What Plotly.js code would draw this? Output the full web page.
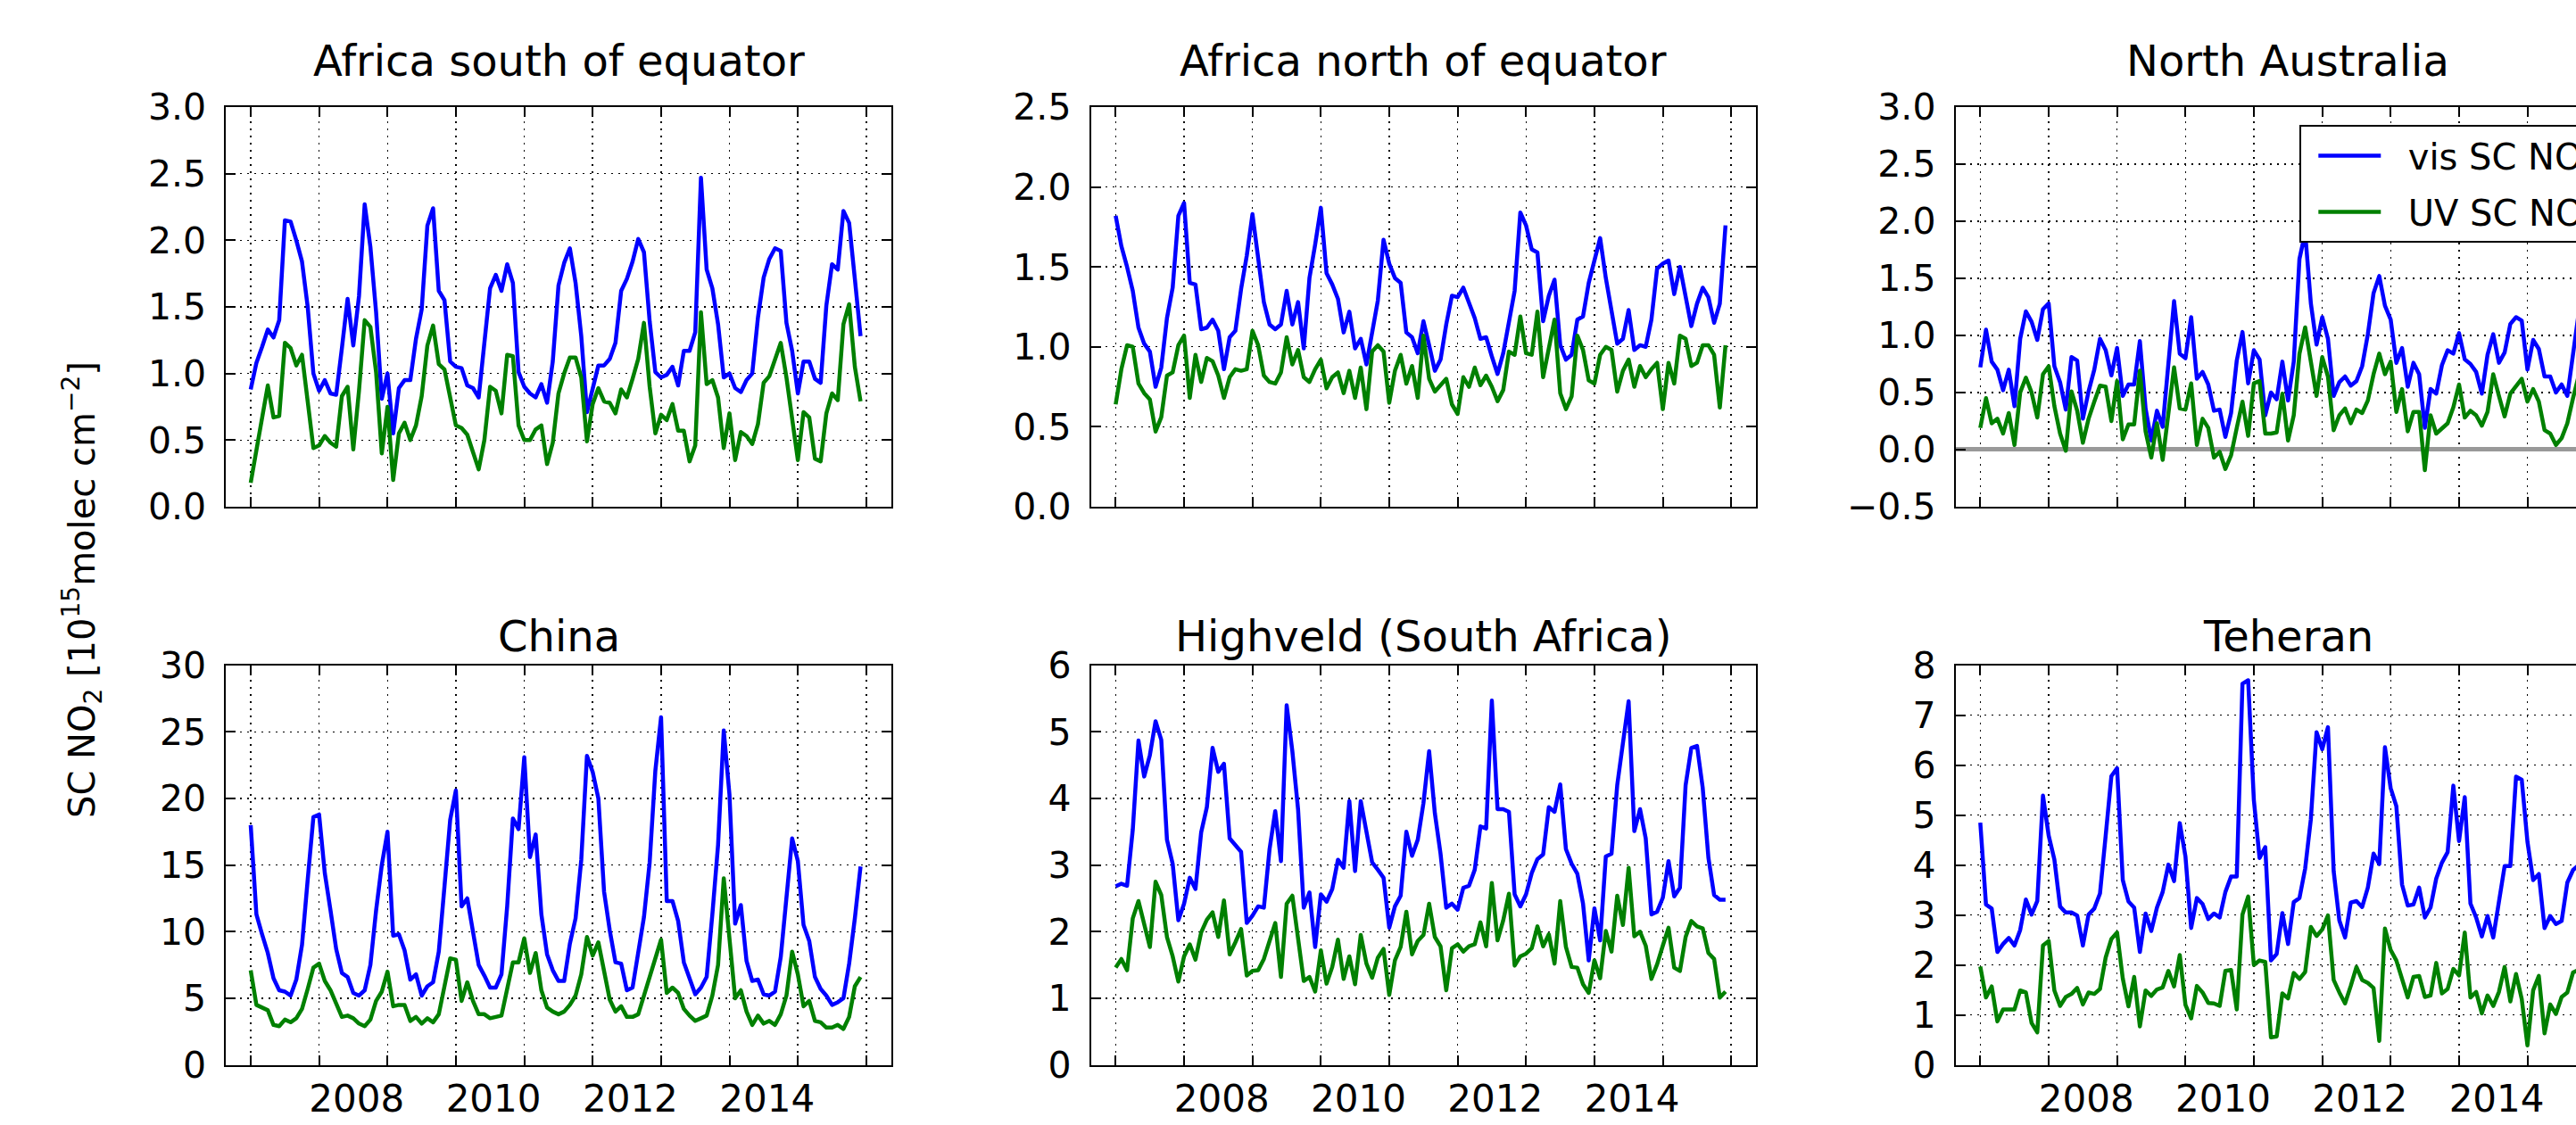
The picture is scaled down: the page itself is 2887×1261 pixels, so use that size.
<!DOCTYPE html>
<html><head><meta charset="utf-8">
<script src="https://cdn.plot.ly/plotly-3.0.1.min.js"></script>
<style>
html,body{margin:0;padding:0;overflow:hidden;background:#fff;width:2887px;height:1261px;}
#chart{width:3000px;height:1261px;}
path.js-line{stroke-linejoin:round;}
</style></head><body><div id="chart"></div>
<script>
// ---- data (monthly, starting January of startYear) ----
const startYear = 2007;
const tickYears = ['2008', '2010', '2012', '2014'];
const regionNames = ['Africa south of equator', 'Africa north of equator', 'North Australia',
                     'China', 'Highveld (South Africa)', 'Teheran'];
const seriesNames = ['vis SC NO<sub>2</sub>', 'UV SC NO<sub>2</sub>'];

const visAfricaSouth = [0.88,1.08,1.20,1.33,1.27,1.40,2.15,2.14,2.00,1.84,1.50,1.00,0.87,0.95,0.85,0.84,1.19,1.56,1.21,1.58,2.27,1.95,1.46,0.81,1.00,0.55,0.89,0.95,0.95,1.26,1.48,2.11,2.24,1.62,1.55,1.09,1.05,1.04,0.91,0.89,0.82,1.26,1.64,1.74,1.62,1.82,1.68,1.01,0.90,0.85,0.82,0.92,0.78,1.09,1.66,1.83,1.94,1.68,1.28,0.71,0.89,1.06,1.06,1.11,1.23,1.62,1.71,1.84,2.01,1.91,1.39,1.01,0.97,0.99,1.05,0.91,1.17,1.17,1.31,2.47,1.78,1.64,1.37,0.97,1.00,0.89,0.86,0.95,1.00,1.42,1.72,1.86,1.94,1.92,1.38,1.17,0.85,1.09,1.09,0.96,0.93,1.51,1.82,1.78,2.22,2.13,1.71,1.28];
const uvAfricaSouth = [0.18,0.42,0.68,0.91,0.67,0.68,1.23,1.19,1.06,1.14,0.79,0.44,0.46,0.53,0.48,0.45,0.83,0.90,0.43,0.87,1.40,1.35,1.01,0.40,0.75,0.20,0.55,0.63,0.50,0.61,0.83,1.21,1.36,1.07,1.03,0.80,0.61,0.59,0.54,0.41,0.28,0.50,0.90,0.87,0.70,1.14,1.13,0.61,0.50,0.50,0.58,0.61,0.32,0.48,0.85,1.00,1.12,1.12,0.97,0.49,0.77,0.89,0.79,0.78,0.70,0.88,0.82,0.96,1.11,1.38,0.90,0.55,0.69,0.65,0.77,0.57,0.57,0.34,0.46,1.46,0.92,0.95,0.82,0.44,0.70,0.35,0.56,0.53,0.47,0.62,0.93,0.98,1.11,1.23,0.97,0.67,0.35,0.71,0.67,0.36,0.34,0.70,0.85,0.80,1.37,1.52,1.05,0.79];

const visAfricaNorth = [1.82,1.63,1.50,1.35,1.12,1.02,0.97,0.75,0.87,1.18,1.37,1.82,1.90,1.40,1.39,1.11,1.12,1.17,1.10,0.86,1.06,1.10,1.36,1.57,1.83,1.56,1.28,1.14,1.11,1.14,1.35,1.14,1.28,0.99,1.43,1.64,1.87,1.46,1.39,1.30,1.09,1.22,0.99,1.05,0.89,1.09,1.29,1.67,1.52,1.43,1.40,1.09,1.06,0.96,1.16,1.01,0.85,0.92,1.14,1.32,1.31,1.37,1.27,1.18,1.05,1.06,0.94,0.83,0.96,1.16,1.35,1.84,1.76,1.61,1.59,1.16,1.32,1.42,1.01,0.92,0.95,1.17,1.19,1.40,1.53,1.68,1.43,1.22,1.02,1.05,1.23,0.98,1.01,1.00,1.17,1.49,1.52,1.54,1.33,1.50,1.31,1.13,1.27,1.37,1.31,1.15,1.27,1.76];
const uvAfricaNorth = [0.64,0.86,1.01,1.00,0.77,0.71,0.67,0.47,0.56,0.82,0.84,1.01,1.07,0.68,0.95,0.78,0.93,0.91,0.82,0.68,0.81,0.86,0.85,0.86,1.10,1.01,0.82,0.78,0.77,0.84,1.06,0.89,0.98,0.81,0.78,0.86,0.92,0.74,0.81,0.84,0.71,0.85,0.68,0.87,0.61,0.97,1.01,0.97,0.65,0.85,0.95,0.77,0.88,0.68,1.07,0.80,0.72,0.76,0.80,0.64,0.58,0.81,0.75,0.87,0.76,0.82,0.75,0.66,0.73,0.97,0.95,1.19,0.96,0.95,1.22,0.81,0.99,1.17,0.71,0.61,0.69,1.07,0.98,0.79,0.77,0.95,1.00,0.98,0.72,0.85,0.92,0.75,0.88,0.81,0.86,0.90,0.61,0.90,0.77,1.07,1.05,0.88,0.90,1.01,1.01,0.95,0.62,1.01];

const visNorthAustralia = [0.72,1.05,0.77,0.70,0.52,0.70,0.38,0.97,1.21,1.12,0.96,1.23,1.28,0.73,0.59,0.35,0.81,0.78,0.27,0.51,0.70,0.97,0.87,0.65,0.89,0.47,0.57,0.57,0.95,0.36,0.08,0.34,0.20,0.75,1.30,0.84,0.80,1.16,0.62,0.68,0.57,0.34,0.35,0.11,0.32,0.78,1.03,0.58,0.87,0.79,0.30,0.50,0.44,0.77,0.43,0.77,1.67,1.90,1.28,0.92,1.16,0.97,0.47,0.59,0.64,0.56,0.60,0.73,1.01,1.37,1.52,1.26,1.14,0.76,0.89,0.55,0.76,0.66,0.19,0.53,0.49,0.74,0.87,0.84,1.02,0.79,0.75,0.68,0.49,0.83,1.01,0.76,0.85,1.10,1.16,1.13,0.70,0.96,0.88,0.64,0.64,0.50,0.57,0.47,0.87,1.20,1.00,0.90];
const uvNorthAustralia = [0.19,0.45,0.23,0.27,0.14,0.32,0.04,0.50,0.63,0.50,0.28,0.66,0.73,0.38,0.14,-0.01,0.51,0.34,0.06,0.27,0.42,0.56,0.55,0.25,0.60,0.09,0.22,0.22,0.69,0.16,-0.07,0.23,-0.09,0.32,0.72,0.36,0.35,0.58,0.04,0.27,0.19,-0.07,-0.02,-0.17,-0.05,0.19,0.42,0.12,0.58,0.60,0.14,0.14,0.15,0.49,0.08,0.30,0.84,1.07,0.79,0.47,0.81,0.64,0.17,0.30,0.36,0.23,0.35,0.32,0.43,0.66,0.84,0.66,0.77,0.33,0.53,0.16,0.33,0.33,-0.18,0.30,0.14,0.19,0.23,0.37,0.57,0.28,0.34,0.30,0.21,0.33,0.66,0.47,0.29,0.49,0.55,0.62,0.42,0.53,0.42,0.17,0.14,0.04,0.10,0.23,0.45,0.65,0.50,0.40];

const visChina = [18.0,11.3,9.8,8.4,6.5,5.6,5.5,5.2,6.4,9.0,13.9,18.6,18.8,14.4,11.6,8.7,6.9,6.6,5.4,5.2,5.6,7.5,11.6,15.0,17.5,9.7,9.8,8.6,6.4,6.8,5.2,5.9,6.2,8.5,13.4,18.4,20.6,11.9,12.5,10.1,7.5,6.7,5.8,5.8,6.8,11.9,18.5,17.7,23.1,15.6,17.3,11.3,8.3,7.1,6.3,6.3,9.1,11.0,15.4,23.2,22.0,20.0,13.0,10.1,7.7,7.6,5.6,5.8,8.5,11.1,15.2,22.1,26.1,12.3,12.3,10.8,7.7,6.5,5.3,5.8,6.6,11.3,16.5,25.1,20.3,10.6,12.0,7.8,6.3,6.4,5.3,5.2,5.5,8.1,12.5,17.0,15.3,10.5,9.3,6.6,5.7,5.2,4.5,4.7,5.0,7.6,11.0,14.9];
const uvChina = [7.1,4.5,4.3,4.1,3.0,2.9,3.4,3.2,3.5,4.2,5.7,7.3,7.6,6.3,5.6,4.5,3.6,3.7,3.5,3.1,2.9,3.4,4.8,5.5,7.0,4.4,4.5,4.5,3.3,3.6,3.1,3.5,3.2,3.8,6.0,8.0,7.9,4.8,6.2,4.8,3.8,3.8,3.5,3.6,3.7,5.7,7.7,7.7,9.5,6.9,8.4,5.6,4.3,4.0,3.8,4.0,4.5,5.2,6.8,9.6,8.2,9.2,7.2,4.9,4.0,4.4,3.6,3.6,3.8,5.2,6.7,8.1,9.4,5.4,5.8,5.4,4.2,3.7,3.3,3.5,3.7,5.2,7.5,14.0,9.6,5.0,5.6,4.0,3.0,3.7,3.1,3.3,3.0,3.8,5.2,8.5,6.8,4.4,4.8,3.3,3.2,2.8,2.8,3.0,2.7,3.6,5.9,6.6];

const visHighveld = [2.68,2.72,2.69,3.53,4.87,4.33,4.65,5.16,4.88,3.38,3.02,2.17,2.42,2.81,2.64,3.49,3.87,4.76,4.40,4.52,3.40,3.30,3.20,2.13,2.24,2.38,2.36,3.24,3.81,3.06,5.40,4.71,3.84,2.36,2.59,1.77,2.56,2.45,2.64,3.08,2.96,3.96,2.91,3.96,3.50,3.04,2.93,2.81,2.06,2.38,2.54,3.50,3.14,3.38,3.93,4.71,3.78,3.17,2.36,2.42,2.33,2.66,2.69,2.93,3.58,3.55,5.47,3.84,3.84,3.80,2.56,2.38,2.56,2.88,3.09,3.16,3.87,3.80,4.21,3.24,3.02,2.87,2.42,1.57,2.35,1.87,3.13,3.17,4.20,4.85,5.46,3.51,3.84,3.40,2.26,2.30,2.51,3.06,2.53,2.66,4.20,4.76,4.79,4.16,3.11,2.55,2.48,2.48];
const uvHighveld = [1.46,1.59,1.42,2.20,2.46,2.11,1.77,2.75,2.55,1.92,1.63,1.25,1.63,1.81,1.58,1.99,2.18,2.29,1.92,2.47,1.66,1.84,2.04,1.34,1.41,1.42,1.59,1.86,2.13,1.32,2.42,2.54,1.90,1.26,1.32,1.10,1.72,1.22,1.47,1.88,1.29,1.63,1.21,1.95,1.52,1.31,1.61,1.74,1.05,1.57,1.77,2.30,1.66,1.86,1.95,2.42,1.92,1.78,1.12,1.75,1.81,1.70,1.78,1.81,2.14,1.78,2.73,1.87,2.17,2.57,1.49,1.63,1.67,1.75,2.08,1.78,1.96,1.52,2.46,1.77,1.47,1.46,1.21,1.08,1.57,1.30,2.01,1.70,2.54,2.10,2.96,1.93,2.00,1.79,1.29,1.51,1.79,2.06,1.46,1.41,1.92,2.16,2.08,2.05,1.68,1.59,1.01,1.10];

const visTeheran = [4.85,3.21,3.13,2.26,2.42,2.54,2.39,2.70,3.31,3.01,3.28,5.39,4.59,4.11,3.17,3.05,3.05,2.99,2.39,3.01,3.13,3.43,4.59,5.78,5.94,3.70,3.27,3.15,2.26,3.03,2.68,3.15,3.46,4.01,3.68,4.84,4.17,2.74,3.34,3.22,2.92,3.03,2.95,3.46,3.77,3.77,7.63,7.70,5.30,4.14,4.36,2.09,2.22,3.04,2.42,3.26,3.34,3.93,4.92,6.66,6.32,6.76,3.88,2.89,2.55,3.25,3.28,3.16,3.55,4.23,4.02,6.36,5.54,5.18,3.61,3.19,3.21,3.55,2.95,3.15,3.73,4.05,4.26,5.59,4.48,5.36,3.23,2.95,2.57,2.98,2.55,3.28,3.98,3.98,5.77,5.71,4.47,3.70,3.82,2.74,2.98,2.82,2.88,3.65,3.90,4.00,4.30,4.80];
const uvTeheran = [1.97,1.35,1.57,0.87,1.11,1.12,1.11,1.49,1.45,0.84,0.65,2.39,2.48,1.49,1.18,1.36,1.42,1.54,1.21,1.45,1.42,1.52,2.15,2.52,2.65,1.73,1.17,1.76,0.77,1.49,1.38,1.51,1.55,1.88,1.57,2.20,1.20,0.93,1.58,1.45,1.24,1.23,1.18,1.88,1.90,1.11,3.01,3.37,2.00,2.09,2.06,0.55,0.57,1.43,1.33,1.84,1.72,1.86,2.76,2.58,2.71,2.99,1.70,1.45,1.23,1.58,1.96,1.70,1.64,1.54,0.48,2.73,2.30,2.09,1.74,1.35,1.76,1.78,1.36,1.39,2.04,1.43,1.52,1.92,1.79,2.65,1.35,1.46,1.03,1.39,1.18,1.46,1.96,1.27,1.82,1.32,0.39,1.49,1.78,0.63,1.21,1.02,1.36,1.45,1.85,1.90,1.70,1.80];

const visSeries = [visAfricaSouth, visAfricaNorth, visNorthAustralia, visChina, visHighveld, visTeheran];
const uvSeries  = [uvAfricaSouth, uvAfricaNorth, uvNorthAustralia, uvChina, uvHighveld, uvTeheran];

// ---- axis settings ----
const yRanges = [[0, 3], [0, 2.5], [-0.5, 3], [0, 30], [0, 6], [0, 8]];
const yDticks = [0.5, 0.5, 0.5, 5, 1, 1];
const yFormats = ['.1f', '.1f', '.1f', 'd', 'd', 'd'];

// ---- geometry (pixels) ----
const W = 3000, H = 1261;
const colLeft = [253.3, 1222.7, 2191.7], colWidth = 745.5;
const rowTop = [120, 745.7], rowHeight = 447.9;
const titleGap = [52, 33];
const FONT = 'DejaVu Sans, sans-serif';
const NB = '\u00a0\u00a0';

const xMonths = visAfricaSouth.map((_, i) => startYear + i / 12);
const xRange = [startYear - 0.361, startYear + 9.365];
const yearGrid = [];
for (let y = startYear; y <= startYear + 9; y++) yearGrid.push(y);
const labelPos = tickYears.map(t => Number(t) + 0.55);

const dash = '2px,6px';
const traces = [];
const layout = {
  width: W, height: H,
  margin: {l: 0, r: 0, t: 0, b: 0},
  paper_bgcolor: 'white', plot_bgcolor: 'white',
  font: {family: FONT, color: 'black'},
  showlegend: true,
  legend: {
    x: 2577.3 / W, y: 1 - 140 / H, xanchor: 'left', yanchor: 'top',
    bgcolor: 'white', bordercolor: 'black', borderwidth: 2,
    font: {family: FONT, size: 40, color: 'black'},
    traceorder: 'grouped', tracegroupgap: 8, itemwidth: 70, indentation: 14
  },
  annotations: []
};

for (let p = 0; p < 6; p++) {
  const row = Math.floor(p / 3), col = p % 3;
  const sfx = p === 0 ? '' : String(p + 1);
  const xa = 'x' + sfx, ya = 'y' + sfx;
  const x0 = colLeft[col] / W, x1 = (colLeft[col] + colWidth) / W;
  const yTop = 1 - rowTop[row] / H, yBot = 1 - (rowTop[row] + rowHeight) / H;

  layout['xaxis' + sfx] = {
    domain: [x0, x1], anchor: ya, range: xRange,
    tickmode: 'array', tickvals: labelPos, ticktext: tickYears,
    showticklabels: row === 1, ticks: '', showgrid: false, zeroline: false,
    showline: true, linecolor: 'black', linewidth: 2, mirror: 'allticks',
    tickfont: {family: FONT, size: 42, color: 'black'}, ticklabelstandoff: 0,
    minor: {tickmode: 'array', tickvals: yearGrid, ticks: 'inside', ticklen: 11, tickwidth: 2,
            tickcolor: 'black', showgrid: true, gridcolor: 'black', gridwidth: 1.5, griddash: dash},
    fixedrange: true
  };
  layout['yaxis' + sfx] = {
    domain: [yBot, yTop], anchor: xa, range: yRanges[p],
    tickmode: 'linear', tick0: 0, dtick: yDticks[p], tickformat: yFormats[p],
    ticks: 'inside', ticklen: 11, tickwidth: 2, tickcolor: 'black',
    showline: true, linecolor: 'black', linewidth: 2, mirror: 'allticks',
    showgrid: true, gridcolor: 'black', gridwidth: 1.5, griddash: dash,
    zeroline: yRanges[p][0] < 0, zerolinecolor: '#999999', zerolinewidth: 5,
    tickfont: {family: FONT, size: 41, color: 'black'}, ticklabelstandoff: 12,
    fixedrange: true
  };
  layout.annotations.push({
    text: regionNames[p], xref: 'paper', yref: 'paper',
    x: (x0 + x1) / 2, y: 1 - (rowTop[row] - titleGap[row]) / H, xanchor: 'center', yanchor: 'middle',
    showarrow: false, font: {family: FONT, size: 48, color: 'black'}
  });
  traces.push({
    x: xMonths, y: visSeries[p], xaxis: xa, yaxis: ya, type: 'scatter', mode: 'lines',
    name: NB + seriesNames[0], legendgroup: 'vis', showlegend: p === 2,
    line: {color: '#0000ff', width: 4.5}, hoverinfo: 'skip'
  });
  traces.push({
    x: xMonths, y: uvSeries[p], xaxis: xa, yaxis: ya, type: 'scatter', mode: 'lines',
    name: NB + seriesNames[1], legendgroup: 'uv', showlegend: p === 2,
    line: {color: '#008000', width: 4.5}, hoverinfo: 'skip'
  });
}

layout.annotations.push({
  text: 'SC NO<sub>2</sub> [10<sup>15</sup>molec cm<sup>−2</sup>]',
  xref: 'paper', yref: 'paper', x: 92 / W, y: 1 - 661 / H,
  xanchor: 'center', yanchor: 'middle', textangle: -90, showarrow: false,
  font: {family: FONT, size: 40, color: 'black'}
});

Plotly.newPlot('chart', traces, layout, {staticPlot: true, displayModeBar: false});
</script>
</body></html>
